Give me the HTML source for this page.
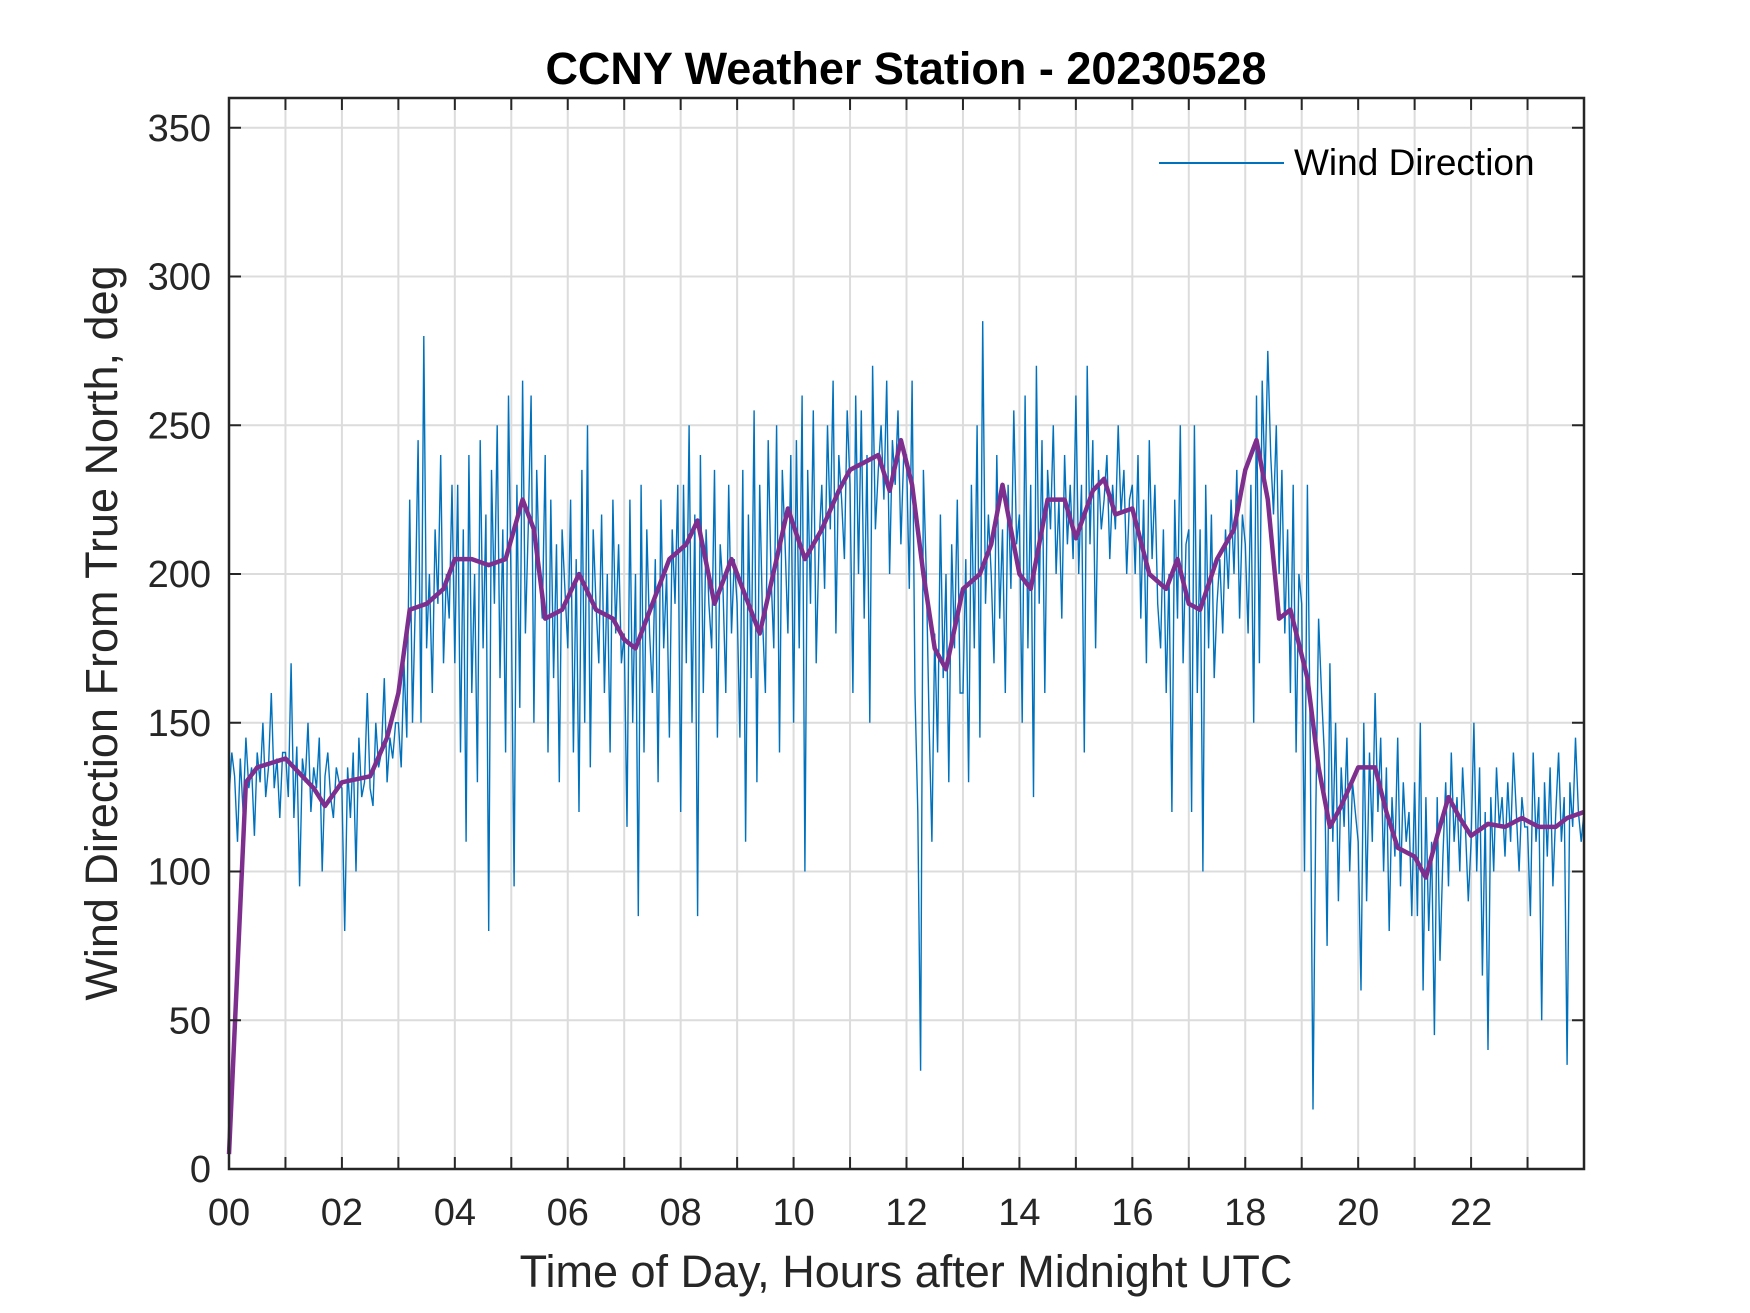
<!DOCTYPE html>
<html><head><meta charset="utf-8"><style>
html,body{margin:0;padding:0;background:#fff}
svg{display:block;font-family:"Liberation Sans",Arial,sans-serif}
</style></head><body>
<svg id="chart" width="1750" height="1313" viewBox="0 0 1750 1313">
<rect width="1750" height="1313" fill="#fff"/>
<g id="grid"></g>
<g id="series"></g>
<g id="axes"></g>
<text x="906" y="84" font-size="45" font-weight="bold" text-anchor="middle" fill="#000">CCNY Weather Station - 20230528</text>
<text x="906" y="1287" font-size="45" text-anchor="middle" fill="#262626">Time of Day, Hours after Midnight UTC</text>
<text transform="translate(117,633) rotate(-90)" font-size="45" text-anchor="middle" fill="#262626">Wind Direction From True North, deg</text>
<g>
<line x1="1159" y1="163" x2="1284" y2="163" stroke="#0072BD" stroke-width="2"/>
<text x="1294" y="175" font-size="37" fill="#000">Wind Direction</text>
</g>
</svg>
<script>
const blueValues=[
125,140,132,110,138,120,145,128,135,112,140,130,150,125,135,160,128,138,118,140,
140,125,170,118,142,95,138,130,150,120,135,128,145,100,132,140,125,118,135,130,
128,80,135,118,140,100,145,125,130,160,128,122,150,135,140,165,130,145,138,150,
150,135,170,145,225,150,190,245,150,280,175,200,160,215,190,240,170,200,185,230,
170,230,140,215,110,240,160,200,130,245,175,220,80,235,190,250,165,215,140,260,
190,95,230,155,265,180,215,260,150,235,200,185,240,140,225,165,210,130,215,195,
175,225,140,205,120,235,150,250,135,215,190,170,220,160,200,140,225,180,210,170,
180,115,225,150,200,85,230,140,215,180,160,205,130,225,175,200,145,215,190,230,
120,230,170,250,150,220,85,240,160,215,190,175,235,145,210,195,160,230,180,205,
190,145,235,110,220,165,255,130,230,185,160,245,200,175,250,140,235,210,180,240,
150,245,175,260,100,235,190,255,170,210,230,195,250,215,265,180,240,225,205,255,
230,160,260,200,255,185,240,150,270,215,235,250,225,265,200,245,230,255,210,240,
240,195,265,160,120,33,235,200,150,110,180,140,220,165,200,130,210,175,225,160,
160,205,130,230,175,250,145,285,190,220,200,170,240,185,215,160,230,195,255,210,
220,150,260,175,230,125,270,190,245,160,235,215,250,200,225,185,240,210,230,205,
260,200,230,140,270,210,245,175,235,215,225,240,205,230,215,250,220,235,200,225,
230,200,240,185,225,170,245,205,230,190,175,215,160,200,120,225,185,250,170,210,
215,120,250,160,215,100,230,175,220,165,190,205,180,215,195,225,200,235,185,220,
210,180,230,150,260,170,265,230,275,240,220,250,200,235,180,215,160,230,140,200,
190,100,230,145,20,120,185,160,140,75,170,110,150,90,135,115,145,100,130,120,
110,60,150,90,140,110,160,120,145,100,135,80,125,105,145,95,130,110,120,85,
130,85,150,60,125,80,110,45,125,70,105,130,95,140,110,125,100,135,115,90,
110,150,100,135,65,120,40,125,100,135,115,125,105,130,110,140,120,100,125,115,
115,85,140,110,125,50,130,105,135,95,120,140,110,125,35,130,115,145,120,110,120];
const smoothHours=[0,0.3,0.5,1.0,1.5,1.7,2.0,2.5,2.8,3.0,3.2,3.5,3.8,4.0,4.3,4.6,4.9,5.2,5.4,5.6,5.9,6.2,6.5,6.8,7.0,7.2,7.5,7.8,8.1,8.3,8.6,8.9,9.1,9.4,9.7,9.9,10.2,10.5,10.8,11.0,11.3,11.5,11.7,11.9,12.1,12.3,12.5,12.7,13.0,13.3,13.5,13.7,14.0,14.2,14.5,14.8,15.0,15.3,15.5,15.7,16.0,16.3,16.6,16.8,17.0,17.2,17.5,17.8,18.0,18.2,18.4,18.6,18.8,19.1,19.3,19.5,19.7,20.0,20.3,20.5,20.7,21.0,21.2,21.4,21.6,21.8,22.0,22.3,22.6,22.9,23.2,23.5,23.7,24.0];
const smoothValues=[5,130,135,138,128,122,130,132,145,160,188,190,195,205,205,203,205,225,215,185,188,200,188,185,178,175,190,205,210,218,190,205,195,180,205,222,205,215,228,235,238,240,228,245,230,200,175,168,195,200,210,230,200,195,225,225,212,228,232,220,222,200,195,205,190,188,205,215,235,245,225,185,188,165,135,115,122,135,135,120,108,105,98,112,125,118,112,116,115,118,115,115,118,120];
const xTickLabels=["00","02","04","06","08","10","12","14","16","18","20","22"];
const yTickLabels=[0,50,100,150,200,250,300,350];

const L=229,R=1584,T=98,B=1169;
const X=h=>L+(R-L)*h/24;
const Y=v=>B-(B-T)*v/360;
const NS="http://www.w3.org/2000/svg";
function mk(tag,parent,attrs){const e=document.createElementNS(NS,tag);for(const k in attrs)e.setAttribute(k,attrs[k]);parent.appendChild(e);return e;}
const grid=document.getElementById('grid'),axes=document.getElementById('axes'),series=document.getElementById('series');
for(let h=1;h<24;h++){
 const g=mk('line',grid,{x1:X(h),x2:X(h),y1:T,y2:B,stroke:'#dcdcdc','stroke-width':2});
 
 
 for(const [a,b] of [[B,B-12],[T,T+12]]){
  const t=mk('line',axes,{x1:X(h),x2:X(h),y1:a,y2:b,stroke:'#262626','stroke-width':2});
  
  
 }
}
yTickLabels.forEach(v=>{
 if(v>0){const g=mk('line',grid,{x1:L,x2:R,y1:Y(v),y2:Y(v),stroke:'#dcdcdc','stroke-width':2});
 
 
 for(const [a,b] of [[L,L+12],[R,R-12]]){
  const t=mk('line',axes,{x1:a,x2:b,y1:Y(v),y2:Y(v),stroke:'#262626','stroke-width':2});
  
  
 }}
 const tx=mk('text',axes,{x:L-18,y:Y(v)+13,'font-size':38,'text-anchor':'end',fill:'#262626'});
 tx.textContent=v;
 
 
});
xTickLabels.forEach((s,i)=>{
 const tx=mk('text',axes,{x:X(i*2),y:B+56,'font-size':38,'text-anchor':'middle',fill:'#262626'});
 tx.textContent=s;
 
 
});
const bp=blueValues.map((v,i)=>X(i*24/(blueValues.length-1)).toFixed(1)+','+Y(v).toFixed(1)).join(' ');
const bl=mk('polyline',series,{points:bp,fill:'none',stroke:'#0072BD','stroke-width':1.4,'stroke-linejoin':'miter'});


const pp=smoothHours.map((h,i)=>X(h).toFixed(1)+','+Y(smoothValues[i]).toFixed(1)).join(' ');
const pl=mk('polyline',series,{points:pp,fill:'none',stroke:'#7E2F8E','stroke-width':4.5,'stroke-linejoin':'round'});


const box=mk('rect',axes,{x:L,y:T,width:R-L,height:B-T,fill:'none',stroke:'#262626','stroke-width':2.5});


</script>
</body></html>
